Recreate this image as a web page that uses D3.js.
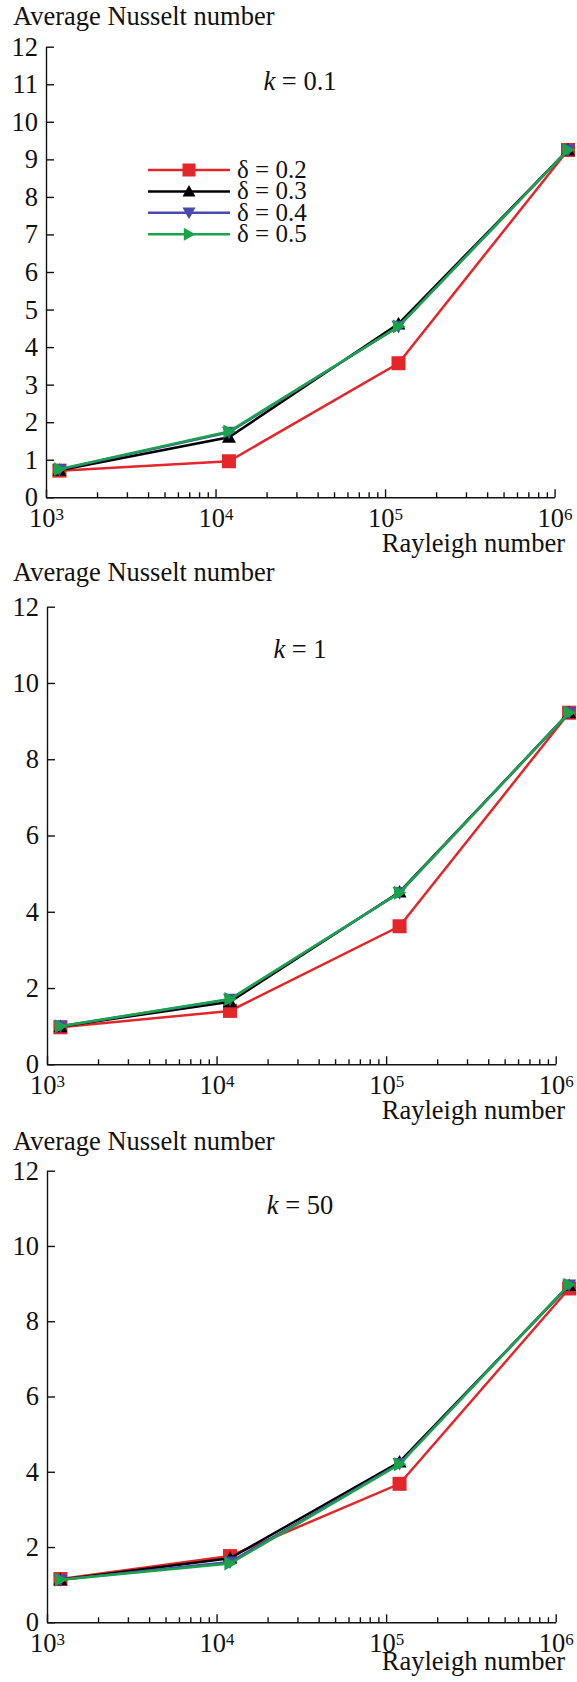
<!DOCTYPE html>
<html>
<head>
<meta charset="utf-8">
<script src="https://cdn.jsdelivr.net/npm/d3@7"></script>
<style>
  body { margin: 0; background: #fff; }
  svg { display: block; font-family: "Liberation Serif", "Times New Roman", serif; }
</style>
</head>
<body>
<div id="chart"></div>
<script>
// data
const rayleigh = [1.2e3, 1.2e4, 1.2e5, 1.2e6];
const deltas = ["0.2", "0.3", "0.4", "0.5"];
const kLabels = ["0.1", "1", "50"];

// average Nusselt number, one row per delta
const nuK01 = [
  [0.71, 0.96, 3.57, 9.25],
  [0.72, 1.60, 4.62, 9.25],
  [0.74, 1.73, 4.55, 9.25],
  [0.75, 1.75, 4.55, 9.25]
];
const nuK1 = [
  [0.97, 1.40, 3.62, 9.22],
  [0.99, 1.64, 4.52, 9.22],
  [1.00, 1.70, 4.50, 9.22],
  [1.00, 1.71, 4.50, 9.22]
];
const nuK50 = [
  [1.15, 1.76, 3.68, 8.87],
  [1.13, 1.70, 4.26, 8.95],
  [1.13, 1.60, 4.22, 8.96],
  [1.13, 1.56, 4.20, 8.97]
];
const yTicksFine = d3.range(0, 13, 1);
const yTicksCoarse = d3.range(0, 13, 2);
const xMajor = [1e3, 1e4, 1e5, 1e6];

// styles
const colors = ["#e3262a", "#000000", "#4a4aae", "#19a34a"];
const symbols = ["square", "up", "down", "right"];
const fontSize = 26.5;

// layout of the three panels (pixels)
const panels = [
  {nu: nuK01, k: kLabels[0], yTicks: yTicksFine, top: 46.7, bottom: 497.3, left: 46, right: 554.6,
   title: 25, kY: 90, xTitle: 552, legend: true},
  {nu: nuK1, k: kLabels[1], yTicks: yTicksCoarse, top: 606.7, bottom: 1064.3, left: 47, right: 555.7,
   title: 580.7, kY: 658.3, xTitle: 1119, legend: false},
  {nu: nuK50, k: kLabels[2], yTicks: yTicksCoarse, top: 1170.7, bottom: 1622.3, left: 47, right: 555.7,
   title: 1150, kY: 1214.3, xTitle: 1670, legend: false}
];

const width = 577, height = 1682;

const svg = d3.select("#chart")
  .append("svg")
  .attr("width", width)
  .attr("height", height);

// marker path for a symbol centred on 0,0
function markerPath(type, s) {
  const h = s / 2;
  if (type == "square") return `M${-h},${-h}H${h}V${h}H${-h}Z`;
  if (type == "up") return `M0,${-h}L${h},${h * 0.8}L${-h},${h * 0.8}Z`;
  if (type == "down") return `M0,${h}L${h},${-h * 0.8}L${-h},${-h * 0.8}Z`;
  return `M${h},0L${-h * 0.8},${-h}L${-h * 0.8},${h}Z`;
}

panels.forEach(p => {
  const x = d3.scaleLog().domain([1e3, 1e6]).range([p.left, p.right]);
  const y = d3.scaleLinear().domain([0, 12]).range([p.bottom, p.top]);

  const g = svg.append("g");

  // y axis with inward ticks
  const yAxis = g.append("g")
    .attr("transform", `translate(${p.left},0)`)
    .call(d3.axisLeft(y).tickValues(p.yTicks).tickSizeInner(-8).tickSizeOuter(0).tickPadding(8));

  // minor x ticks
  const minors = [];
  [1e3, 1e4, 1e5].forEach(d => { for (let m = 2; m < 10; m++) minors.push(d * m); });
  g.append("g")
    .attr("transform", `translate(0,${p.bottom})`)
    .call(d3.axisBottom(x).tickValues(minors).tickSizeInner(-5).tickSizeOuter(0).tickFormat(""))
    .call(a => a.select(".domain").remove());

  // major x ticks and labels 10^n
  const xAxis = g.append("g")
    .attr("transform", `translate(0,${p.bottom})`)
    .call(d3.axisBottom(x).tickValues(xMajor).tickSizeInner(-8).tickSizeOuter(0).tickPadding(11));

  xAxis.selectAll(".tick text")
    .text("10")
    .append("tspan")
    .attr("dy", "-0.42em")
    .attr("font-size", 17)
    .text(d => Math.round(Math.log10(d)));

  [yAxis, xAxis].forEach(a => {
    a.attr("font-family", null).attr("font-size", fontSize);
    a.selectAll("path, line").attr("stroke", "#111").attr("stroke-width", 1.4);
    a.selectAll("text").attr("fill", "#111");
  });
  g.selectAll(".tick line").attr("stroke", "#111").attr("stroke-width", 1.4);

  // axis titles
  g.append("text")
    .attr("x", 13)
    .attr("y", p.title)
    .attr("font-size", fontSize)
    .attr("fill", "#111")
    .text("Average Nusselt number");

  g.append("text")
    .attr("x", 565)
    .attr("y", p.xTitle)
    .attr("text-anchor", "end")
    .attr("font-size", fontSize)
    .attr("fill", "#111")
    .text("Rayleigh number");

  // k label
  const kt = g.append("text")
    .attr("x", 300)
    .attr("y", p.kY)
    .attr("text-anchor", "middle")
    .attr("font-size", fontSize)
    .attr("fill", "#111");
  kt.append("tspan").attr("font-style", "italic").text("k");
  kt.append("tspan").text(" = " + p.k);

  // series
  const line = d3.line()
    .x((d, i) => x(rayleigh[i]))
    .y(d => y(d));

  p.nu.forEach((vals, s) => {
    g.append("path")
      .datum(vals)
      .attr("fill", "none")
      .attr("stroke", colors[s])
      .attr("stroke-width", 2.5)
      .attr("d", line);

    g.selectAll(null)
      .data(vals)
      .join("path")
      .attr("transform", (d, i) => `translate(${x(rayleigh[i])},${y(d)})`)
      .attr("d", markerPath(symbols[s], 14))
      .attr("fill", colors[s]);
  });

  // legend
  if (p.legend) {
    const rows = g.append("g")
      .selectAll("g")
      .data(deltas)
      .join("g")
      .attr("transform", (d, i) => `translate(0,${170 + i * 21.4})`);

    rows.append("line")
      .attr("x1", 148).attr("x2", 230)
      .attr("stroke", (d, i) => colors[i])
      .attr("stroke-width", 2.5);

    rows.append("path")
      .attr("transform", "translate(189,0)")
      .attr("d", (d, i) => markerPath(symbols[i], 13))
      .attr("fill", (d, i) => colors[i]);

    rows.append("text")
      .attr("x", 237)
      .attr("y", 8)
      .attr("font-size", 25)
      .attr("fill", "#111")
      .text(d => "δ = " + d);
  }
});
</script>
</body>
</html>
